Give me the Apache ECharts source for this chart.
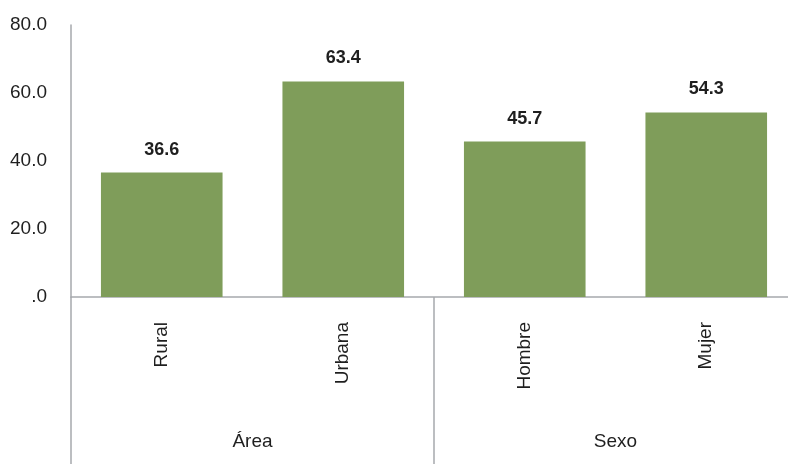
<!DOCTYPE html>
<html>
<head>
<meta charset="utf-8">
<script src="https://cdn.jsdelivr.net/npm/echarts@6/dist/echarts.min.js"></script>
<style>
html,body{margin:0;padding:0;background:#fff;}
#c{width:788px;height:464px;}
</style>
</head>
<body>
<div id="c"></div>
<script>
var categories = ['Rural', 'Urbana', 'Hombre', 'Mujer'];
var groups = ['Área', 'Sexo'];
var values = [36.6, 63.4, 45.7, 54.3];
var yTicks = [0, 20, 40, 60, 80];

var FONT = '"Liberation Sans", Arial, sans-serif';
var TXT = '#1f1f1f';
var LINE = '#a6a9ad';

var chart = echarts.init(document.getElementById('c'));
chart.setOption({
  animation: false,
  grid: { left: 71, width: 726, top: 25, height: 272, containLabel: false, outerBoundsMode: 'none' },
  xAxis: [
    {
      type: 'category',
      data: categories,
      position: 'bottom',
      axisLine: { show: true, lineStyle: { color: LINE, width: 1.5 } },
      axisTick: { show: false },
      axisLabel: {
        rotate: 90, margin: 25, color: TXT, fontSize: 19, fontFamily: FONT, interval: 0
      }
    },
    {
      type: 'category',
      data: groups,
      position: 'bottom',
      axisLine: { show: false },
      axisTick: { show: true, length: 170, lineStyle: { color: LINE, width: 1.5 } },
      axisLabel: { margin: 135, color: TXT, fontSize: 19, fontFamily: FONT, interval: 0 }
    }
  ],
  yAxis: {
    type: 'value',
    min: yTicks[0],
    max: yTicks[yTicks.length - 1],
    interval: 20,
    axisLine: { show: true, lineStyle: { color: LINE, width: 1.5 } },
    axisTick: { show: false },
    splitLine: { show: false },
    axisLabel: {
      margin: 24, color: TXT, fontSize: 19, fontFamily: FONT,
      formatter: function (v) { return v === 0 ? '.0' : v.toFixed(1); }
    }
  },
  series: [{
    type: 'bar',
    xAxisIndex: 0,
    data: values,
    barCategoryGap: '33%',
    itemStyle: { color: '#7f9d5a' },
    label: {
      show: true, position: 'top', distance: 14,
      color: TXT, fontSize: 18, fontWeight: 'bold', fontFamily: FONT,
      formatter: function (p) { return p.value.toFixed(1); }
    }
  }]
});
</script>
</body>
</html>
